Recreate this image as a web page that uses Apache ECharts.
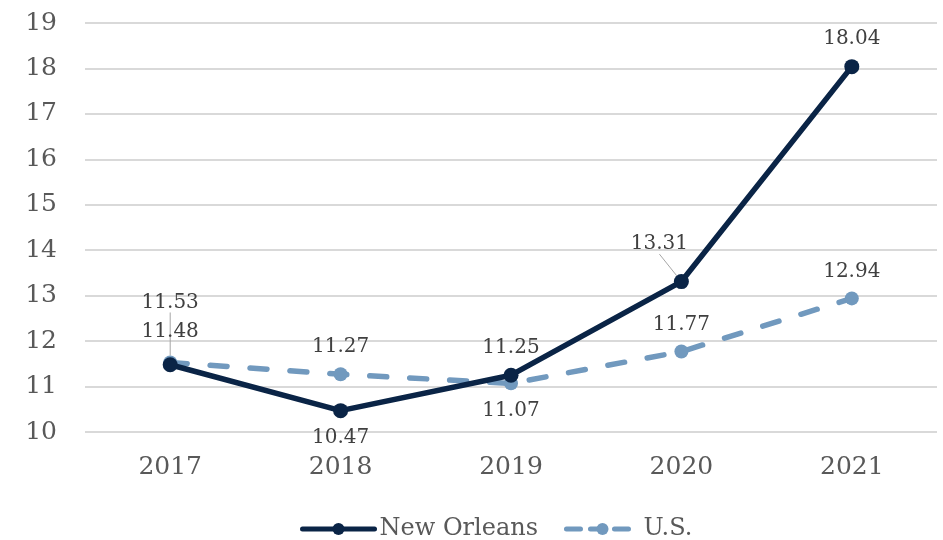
<!DOCTYPE html>
<html><head><meta charset="utf-8">
<script src="https://cdn.jsdelivr.net/npm/echarts@6/dist/echarts.min.js"></script>
<style>html,body{margin:0;padding:0;background:#fff}#c{width:943px;height:540px}</style>
</head><body><div id="c"></div>
<script>
var years = ['2017','2018','2019','2020','2021'];
var newOrleans = [11.48, 10.47, 11.25, 13.31, 18.04];
var us = [11.53, 11.27, 11.07, 11.77, 12.94];
var yTicks = {min: 10, max: 19, interval: 1};

var FONT = '"DejaVu Serif", serif';
var NO_COLOR = '#0a2446', US_COLOR = '#7199be';
var chart = echarts.init(document.getElementById('c'));
var noPos = ['top','bottom','top','top','top'];
var usPos = ['top','top','bottom','top','top'];
var noShift = [[0,-5],[0,0],[0,0],[-22,-10],[0,0]];
var usShift = [[0,-33],[0,0],[0,0],[0,0],[0,0]];
function mk(vals, pos, leader){
  return vals.map(function(v,i){
    return {value: v, label:{position: pos[i]}, labelLine:{show: leader[i], lineStyle:{color:'#a6a6a6', width:1}}};
  });
}
chart.setOption({
  animation: false,
  grid: {left: 85, right: 6, top: 23, bottom: 108},
  legend: {
    top: 512, left: 295, itemWidth: 72, itemHeight: 15, itemGap: 26,
    textStyle: {fontFamily: FONT, fontSize: 24, color: '#595959'},
    data: [
      {name: 'New Orleans', lineStyle: {width: 5, color: NO_COLOR, cap: 'round'}},
      {name: 'U.S.', lineStyle: {width: 5, color: US_COLOR, type: [14, 10], cap: 'round'}}
    ]
  },
  xAxis: {
    type: 'category', data: years, boundaryGap: true,
    axisLine: {show: false}, axisTick: {show: false},
    axisLabel: {fontFamily: FONT, fontSize: 25, color: '#595959', margin: 23}
  },
  yAxis: {
    type: 'value', min: yTicks.min, max: yTicks.max, interval: yTicks.interval,
    axisLine: {show: false}, axisTick: {show: false},
    splitLine: {lineStyle: {color: '#d9d9d9', width: 2}},
    axisLabel: {fontFamily: FONT, fontSize: 25, color: '#595959', margin: 28}
  },
  series: [
    {
      name: 'New Orleans', type: 'line', data: mk(newOrleans, noPos, [false,false,false,true,false]),
      z: 3,
      symbol: 'circle', symbolSize: 15,
      lineStyle: {color: NO_COLOR, width: 5.5},
      itemStyle: {color: NO_COLOR},
      label: {show: true, fontFamily: FONT, fontSize: 20, color: '#404040', distance: 10,
        formatter: function(p){ return p.value.toFixed(2); }},
      labelLayout: function(p){ var s = noShift[p.dataIndex]; return {dx: s[0], dy: s[1]}; }
    },
    {
      name: 'U.S.', type: 'line', data: mk(us, usPos, [true,false,false,false,false]),
      z: 2,
      symbol: 'circle', symbolSize: 14,
      lineStyle: {color: US_COLOR, width: 5.5, type: [17, 23], cap: 'round'},
      itemStyle: {color: US_COLOR},
      label: {show: true, fontFamily: FONT, fontSize: 20, color: '#404040', distance: 10,
        formatter: function(p){ return p.value.toFixed(2); }},
      labelLayout: function(p){ var s = usShift[p.dataIndex]; return {dx: s[0], dy: s[1]}; }
    }
  ]
});
</script></body></html>
